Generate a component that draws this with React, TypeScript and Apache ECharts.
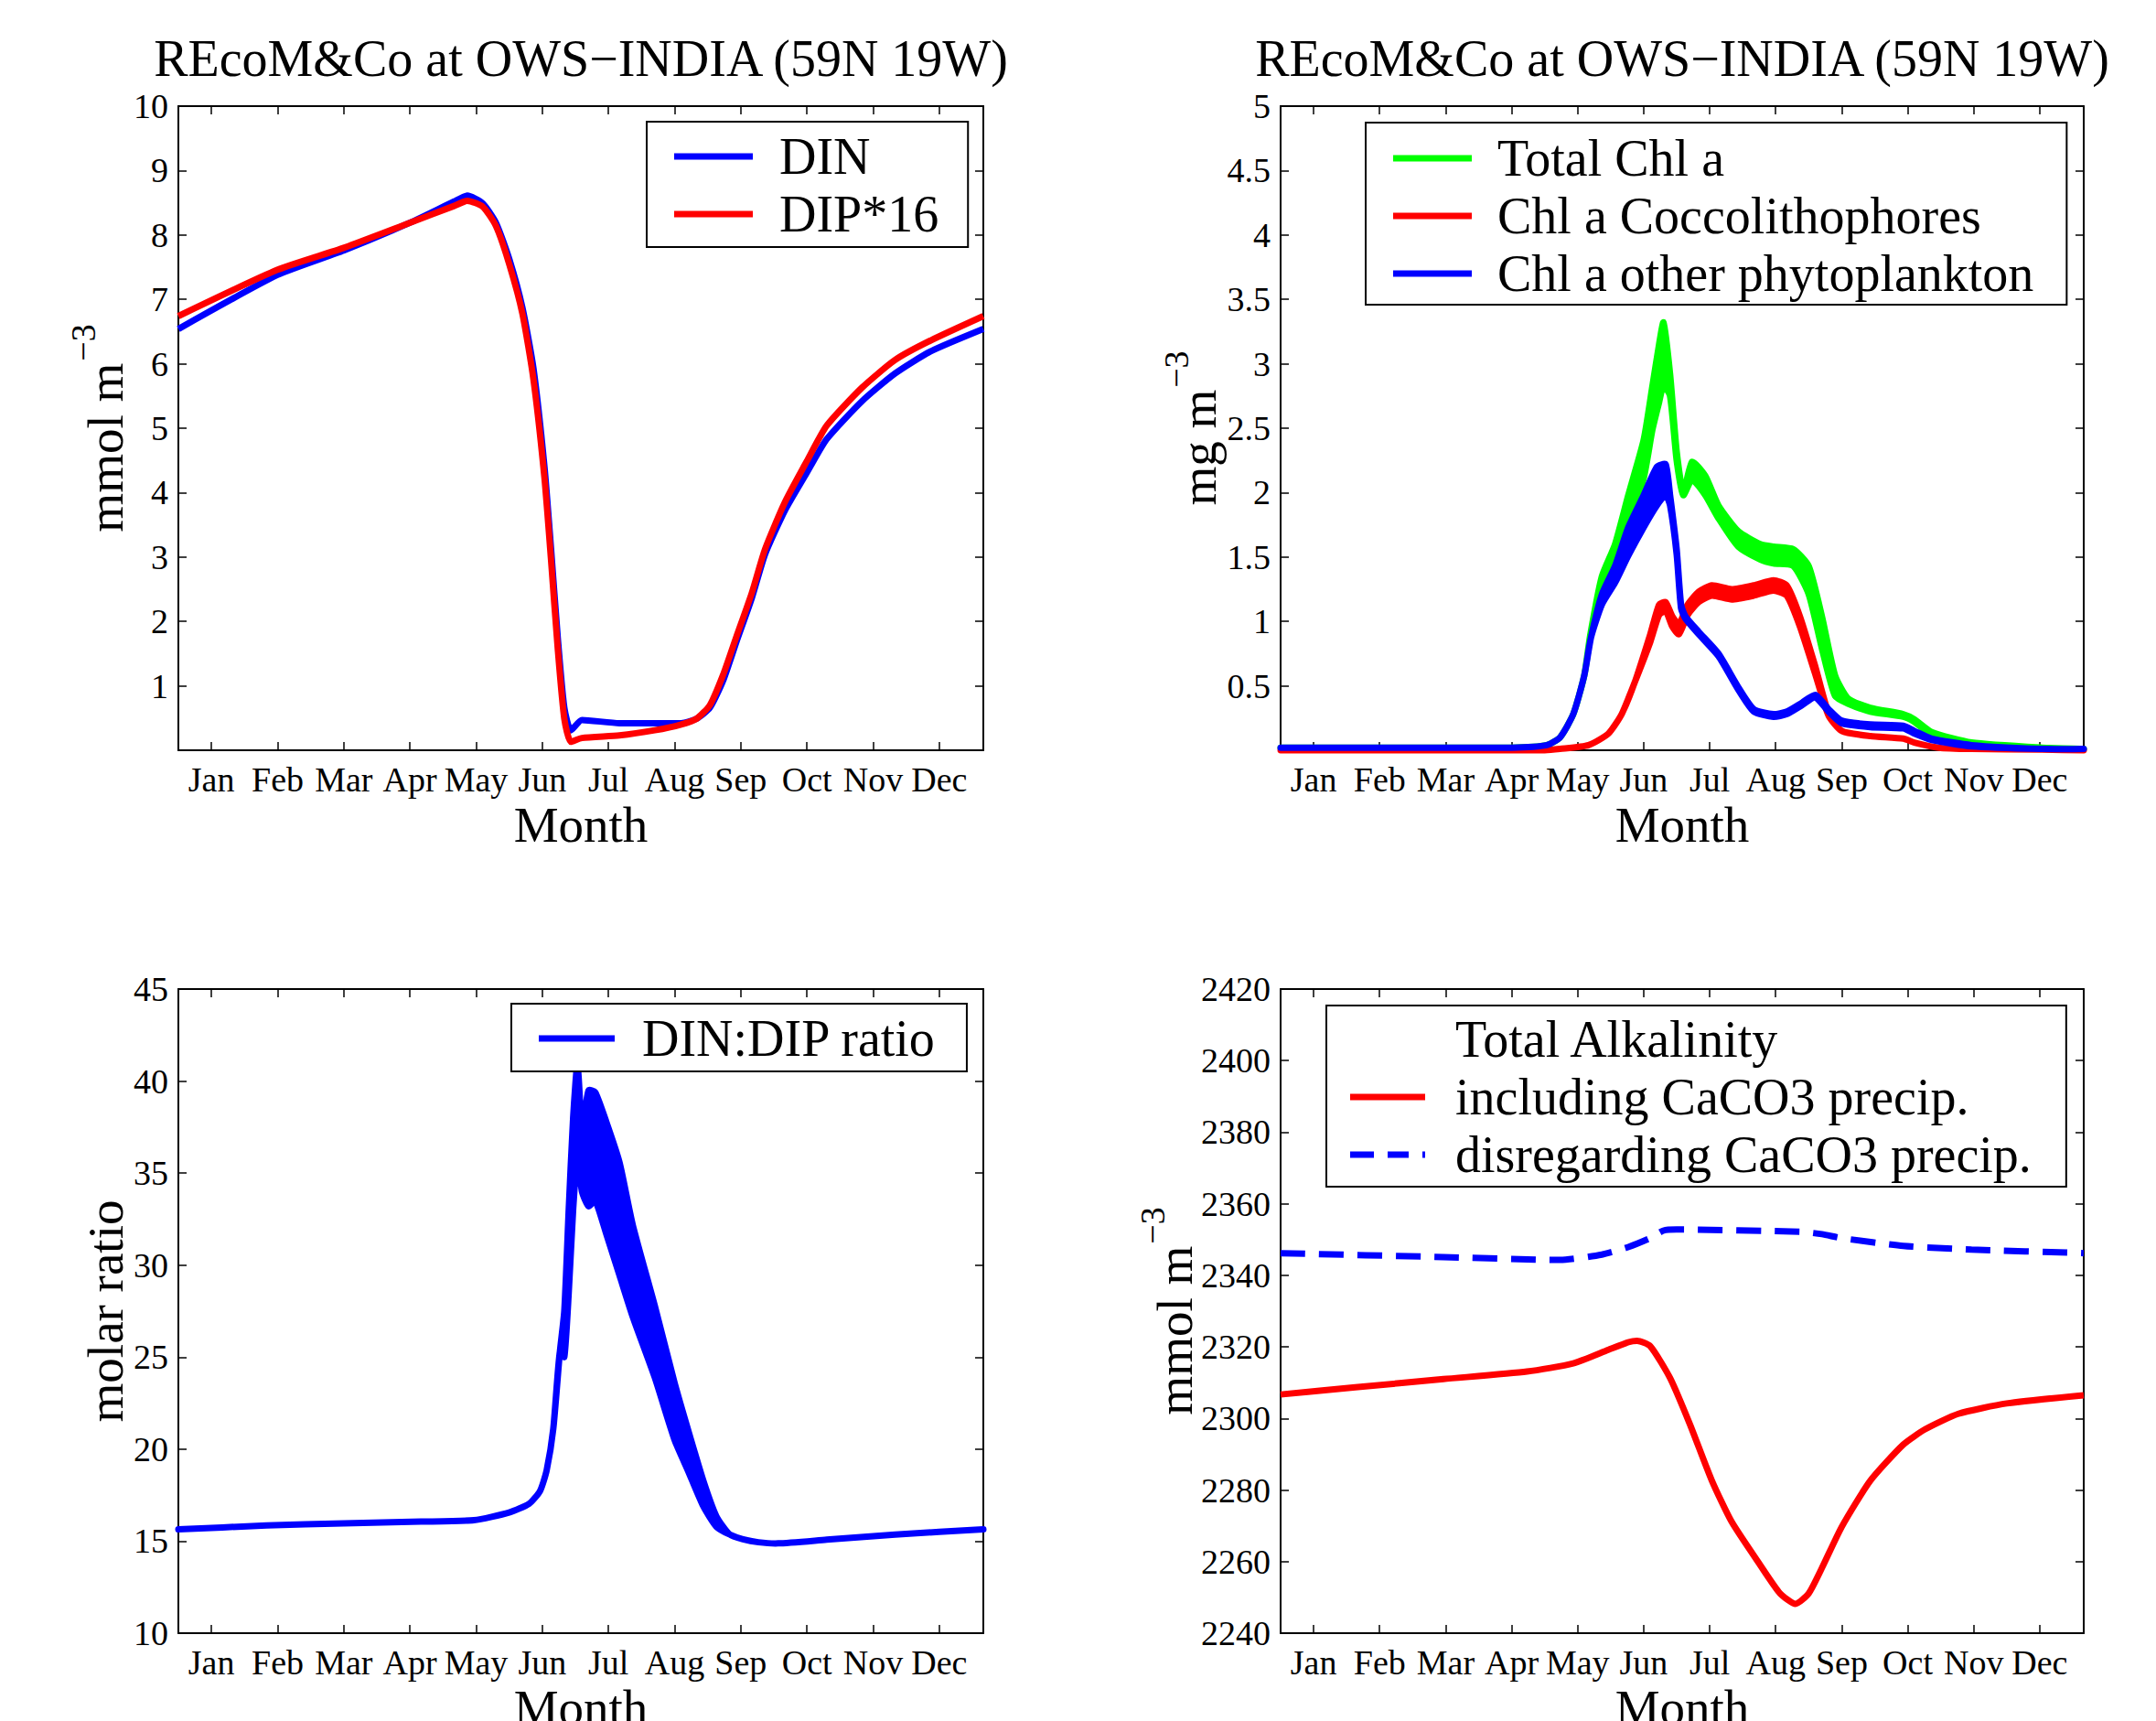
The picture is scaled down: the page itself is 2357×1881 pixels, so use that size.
import React, { useEffect, useRef } from 'react';
import * as echarts from 'echarts';

const FONT = 'Liberation Serif';
const TITLE = 'REcoM&Co at OWS\u2212INDIA (59N 19W)';

// x axis: day of year, month tick labels
const MONTHS = ['Jan', 'Feb', 'Mar', 'Apr', 'May', 'Jun', 'Jul', 'Aug', 'Sep', 'Oct', 'Nov', 'Dec'];
const MONTH_TICKS = [15, 45, 75, 105, 135, 165, 195, 225, 255, 285, 315, 345];

// y axis ranges [min, max, interval]
const Y_NUT = [0, 10, 1];
const Y_CHL = [0, 5, 0.5];
const Y_RATIO = [10, 45, 5];
const Y_TA = [2240, 2420, 20];

// Panel 1: nutrients (mmol m-3)
const NUT_DAYS = [0, 45, 75, 105, 125, 131, 138, 144, 150, 156, 161, 166, 169, 172, 175, 178, 183, 200, 216, 228, 235, 241, 247, 253, 260, 266, 275, 285, 294, 310, 325, 341, 365];
const DIN = [6.54, 7.38, 7.76, 8.19, 8.52, 8.61, 8.49, 8.19, 7.63, 6.87, 5.93, 4.40, 3.12, 1.76, 0.66, 0.31, 0.47, 0.42, 0.42, 0.42, 0.49, 0.66, 1.08, 1.68, 2.36, 3.04, 3.72, 4.31, 4.83, 5.42, 5.85, 6.19, 6.54];
const DIP16 = [6.74, 7.46, 7.80, 8.19, 8.45, 8.53, 8.44, 8.14, 7.55, 6.78, 5.76, 4.23, 2.95, 1.59, 0.49, 0.13, 0.19, 0.23, 0.31, 0.40, 0.49, 0.70, 1.17, 1.76, 2.44, 3.12, 3.85, 4.49, 5.04, 5.63, 6.06, 6.36, 6.74];

// Panel 2: chlorophyll (mg m-3), upper / lower envelope of daily oscillation
const CHL_TOT_DAYS = [0, 60, 105, 121, 127, 133, 138, 141, 146, 152, 158, 165, 169, 172, 174, 177, 180, 183, 187, 193, 199, 208, 218, 224, 233, 240, 246, 252, 258, 268, 283, 288, 296, 314, 346, 365];
const CHL_TOT_UP = [0.02, 0.02, 0.02, 0.04, 0.10, 0.28, 0.58, 0.92, 1.35, 1.60, 1.98, 2.41, 2.83, 3.15, 3.32, 2.92, 2.32, 2.00, 2.24, 2.13, 1.90, 1.70, 1.60, 1.58, 1.56, 1.43, 1.04, 0.58, 0.40, 0.33, 0.28, 0.24, 0.14, 0.06, 0.02, 0.01];
const CHL_TOT_LO = [0.02, 0.02, 0.02, 0.04, 0.10, 0.28, 0.58, 0.92, 1.22, 1.40, 1.73, 2.11, 2.49, 2.70, 2.83, 2.75, 2.25, 1.98, 2.10, 1.98, 1.80, 1.58, 1.48, 1.45, 1.43, 1.21, 0.79, 0.42, 0.36, 0.30, 0.26, 0.22, 0.12, 0.05, 0.02, 0.01];

const CHL_COC_DAYS = [0, 120, 127, 140, 149, 155, 161, 168, 172, 175, 178, 181, 185, 190, 196, 205, 215, 224, 230, 236, 243, 249, 255, 268, 283, 288, 299, 314, 346, 365];
const CHL_COC_UP = [0.0, 0.0, 0.01, 0.04, 0.13, 0.28, 0.53, 0.90, 1.13, 1.15, 1.04, 0.98, 1.13, 1.23, 1.28, 1.25, 1.28, 1.32, 1.28, 1.04, 0.65, 0.29, 0.15, 0.11, 0.09, 0.06, 0.02, 0.01, 0.005, 0.0];
const CHL_COC_LO = [0.0, 0.0, 0.01, 0.04, 0.13, 0.28, 0.53, 0.84, 1.05, 1.08, 0.96, 0.90, 1.05, 1.15, 1.20, 1.17, 1.20, 1.24, 1.20, 0.96, 0.59, 0.27, 0.15, 0.11, 0.09, 0.06, 0.02, 0.01, 0.005, 0.0];

const CHL_OTH_DAYS = [0, 60, 105, 121, 127, 133, 138, 141, 146, 152, 158, 165, 171, 175, 177, 180, 182, 184, 190, 199, 208, 215, 224, 230, 237, 243, 249, 255, 268, 283, 288, 296, 314, 346, 365];
const CHL_OTH_UP = [0.02, 0.02, 0.02, 0.04, 0.10, 0.28, 0.58, 0.87, 1.21, 1.43, 1.73, 1.98, 2.20, 2.22, 1.98, 1.56, 1.13, 1.04, 0.92, 0.75, 0.49, 0.32, 0.28, 0.30, 0.37, 0.43, 0.32, 0.23, 0.20, 0.19, 0.15, 0.09, 0.04, 0.01, 0.01];
const CHL_OTH_LO = [0.02, 0.02, 0.02, 0.04, 0.10, 0.28, 0.58, 0.87, 1.13, 1.30, 1.51, 1.73, 1.90, 1.98, 1.90, 1.52, 1.10, 1.02, 0.90, 0.73, 0.47, 0.30, 0.26, 0.28, 0.35, 0.41, 0.30, 0.21, 0.18, 0.17, 0.13, 0.08, 0.03, 0.01, 0.01];

// Panel 3: DIN:DIP molar ratio, upper / lower envelope
const RATIO_DAYS = [0, 40, 75, 110, 134, 150, 159, 164, 167, 170, 173, 175, 177, 179, 181, 183, 186, 189, 194, 200, 206, 216, 225, 231, 238, 244, 250, 256, 263, 272, 294, 325, 365];
const RATIO_UP = [15.64, 15.85, 15.97, 16.06, 16.14, 16.56, 17.03, 17.73, 18.85, 21.1, 25.3, 27.5, 33.0, 38.0, 41.0, 37.5, 39.5, 39.4, 37.8, 35.6, 32.2, 27.8, 23.6, 21.1, 18.3, 16.34, 15.36, 15.10, 14.94, 14.88, 15.08, 15.36, 15.64];
const RATIO_LO = [15.64, 15.85, 15.97, 16.06, 16.14, 16.56, 17.03, 17.73, 18.85, 21.1, 25.3, 25.0, 28.5, 33.0, 36.0, 34.0, 33.2, 33.5, 31.7, 29.45, 27.2, 23.9, 20.5, 18.85, 16.9, 15.78, 15.36, 15.10, 14.94, 14.88, 15.08, 15.36, 15.64];

// Panel 4: total alkalinity (mmol m-3)
const TA_INC_DAYS = [0, 34, 74, 112, 133, 149, 158, 162, 168, 177, 186, 196, 205, 218, 227, 234, 240, 246, 255, 268, 283, 293, 308, 330, 365];
const TA_INC = [2306.7, 2308.7, 2311.0, 2313.1, 2315.4, 2319.2, 2321.3, 2321.7, 2320.2, 2311.3, 2298.4, 2282.6, 2271.1, 2259.0, 2251.1, 2248.2, 2251.1, 2258.2, 2269.7, 2282.6, 2292.7, 2297.0, 2301.3, 2304.2, 2306.5];
const TA_DIS_DAYS = [0, 74, 127, 146, 158, 168, 174, 180, 236, 246, 255, 283, 314, 365];
const TA_DIS = [2346.2, 2345.1, 2344.3, 2345.8, 2347.9, 2350.4, 2352.5, 2352.8, 2352.2, 2351.5, 2350.4, 2348.2, 2347.2, 2346.2];

const GRIDS = [
  { left: 195, top: 116, width: 880, height: 704 },
  { left: 1400, top: 116, width: 878, height: 704 },
  { left: 195, top: 1081, width: 880, height: 704 },
  { left: 1400, top: 1081, width: 878, height: 704 },
];

const BLUE = '#0000ff';
const RED = '#ff0000';
const GREEN = '#00ff00';
const LW = 7;
const DASH_ICON = 'path://M0,0H26V7H0Z M41,0H64V7H41Z M79,0H82V7H79Z';

function measure(text: string, size: number) {
  const c = document.createElement('canvas').getContext('2d')!;
  c.font = `${size}px "${FONT}"`;
  return c.measureText(text).width;
}

function line(name: string, days: number[], vals: number[], color: string, gi: number, extra: any = {}) {
  return {
    type: 'line',
    name,
    xAxisIndex: 2 * gi,
    yAxisIndex: 2 * gi,
    data: days.map((d, i) => [d, vals[i]]),
    showSymbol: false,
    symbol: 'none',
    smooth: 0.2,
    lineStyle: { color, width: LW, join: 'round' },
    itemStyle: { color },
    emphasis: { disabled: true },
    ...extra,
  };
}

// band between an upper and a lower envelope, drawn through the axes' scales
function band(name: string, days: number[], up: number[], lo: number[], color: string, gi: number) {
  return {
    type: 'custom',
    name,
    xAxisIndex: 2 * gi,
    yAxisIndex: 2 * gi,
    data: days.map((d, i) => [d, up[i], lo[i]]),
    encode: { x: 0, y: [1, 2] },
    itemStyle: { color },
    emphasis: { disabled: true },
    renderItem: (params: any, api: any) => {
      if (params.dataIndex !== 0) return null;
      const top = days.map((d, i) => api.coord([d, up[i]]));
      const bot = days.map((d, i) => api.coord([d, lo[i]])).reverse();
      return {
        type: 'polygon',
        shape: { points: top.concat(bot), smooth: 0.2 },
        style: { fill: color, stroke: color, lineWidth: LW, lineJoin: 'round' },
      };
    },
  };
}

function buildOption() {
  const ranges = [Y_NUT, Y_CHL, Y_RATIO, Y_TA];
  const axisLine = { show: true, onZero: false, lineStyle: { color: '#000', width: 2 } };
  const tickStyle = { color: '#000', width: 1.5 };
  const xAxis: any[] = [];
  const yAxis: any[] = [];
  GRIDS.forEach((_, i) => {
    xAxis.push({
      type: 'value', gridIndex: i, position: 'bottom', min: 0, max: 365,
      axisLine,
      axisTick: { show: true, inside: true, length: 9, customValues: MONTH_TICKS, lineStyle: tickStyle },
      axisLabel: {
        show: true, customValues: MONTH_TICKS,
        formatter: (v: number) => MONTHS[Math.round((v - 15) / 30)],
        color: '#000', fontSize: 38, fontFamily: FONT, margin: 13,
      },
      splitLine: { show: false },
      name: 'Month', nameLocation: 'middle', nameGap: 54, nameMoveOverlap: false,
      nameTextStyle: { fontSize: 55, fontFamily: FONT, color: '#000' },
    });
    xAxis.push({
      type: 'value', gridIndex: i, position: 'top', min: 0, max: 365,
      axisLine,
      axisTick: { show: true, inside: true, length: 9, customValues: MONTH_TICKS, lineStyle: tickStyle },
      axisLabel: { show: false },
      splitLine: { show: false },
    });
    const [mn, mx, iv] = ranges[i];
    yAxis.push({
      type: 'value', gridIndex: i, position: 'left', min: mn, max: mx, interval: iv,
      axisLine,
      axisTick: { show: true, inside: true, length: 9, lineStyle: tickStyle },
      axisLabel: {
        show: true, color: '#000', fontSize: 38, fontFamily: FONT, margin: 11, showMinLabel: i >= 2,
        formatter: (v: number) => String(v),
      },
      splitLine: { show: false },
    });
    yAxis.push({
      type: 'value', gridIndex: i, position: 'right', min: mn, max: mx, interval: iv,
      axisLine,
      axisTick: { show: true, inside: true, length: 9, lineStyle: tickStyle },
      axisLabel: { show: false },
      splitLine: { show: false },
    });
  });

  const series: any[] = [
    line('DIN', NUT_DAYS, DIN, BLUE, 0),
    line('DIP*16', NUT_DAYS, DIP16, RED, 0),
    band('Total Chl a', CHL_TOT_DAYS, CHL_TOT_UP, CHL_TOT_LO, GREEN, 1),
    band('Chl a Coccolithophores', CHL_COC_DAYS, CHL_COC_UP, CHL_COC_LO, RED, 1),
    band('Chl a other phytoplankton', CHL_OTH_DAYS, CHL_OTH_UP, CHL_OTH_LO, BLUE, 1),
    band('DIN:DIP ratio', RATIO_DAYS, RATIO_UP, RATIO_LO, BLUE, 2),
    { type: 'line', name: 'Total Alkalinity', xAxisIndex: 6, yAxisIndex: 6, data: [], symbol: 'none', lineStyle: { color: '#fff', width: 0 }, itemStyle: { color: '#fff' } },
    line('including CaCO3 precip.', TA_INC_DAYS, TA_INC, RED, 3),
    line('disregarding CaCO3 precip.', TA_DIS_DAYS, TA_DIS, BLUE, 3, { lineStyle: { color: BLUE, width: LW, type: [27, 15] } }),
  ];

  const legendBase = {
    orient: 'vertical',
    itemWidth: 86,
    itemHeight: 7,
    icon: 'rect',
    borderColor: '#000',
    borderWidth: 2,
    borderRadius: 0,
    backgroundColor: '#fff',
    selectedMode: false,
    itemStyle: { borderWidth: 0 },
    z: 10,
  };
  const lt = (pad: number) => ({ fontSize: 56, fontFamily: FONT, color: '#000', padding: [0, 0, 0, pad] });
  const legend = [
    { ...legendBase, data: ['DIN', 'DIP*16'], left: 707, top: 133, padding: [10, 32, 8, 30], itemGap: 7, textStyle: lt(24) },
    { ...legendBase, data: ['Total Chl a', 'Chl a Coccolithophores', 'Chl a other phytoplankton'], left: 1493, top: 134, padding: [11, 36, 6, 30], itemGap: 7, textStyle: lt(23) },
    { ...legendBase, data: ['DIN:DIP ratio'], left: 559, top: 1097, padding: [10, 33, 8, 30], itemGap: 7, itemWidth: 83, textStyle: lt(25) },
    {
      ...legendBase,
      data: [
        { name: 'Total Alkalinity', icon: 'none' },
        { name: 'including CaCO3 precip.', icon: 'rect' },
        { name: 'disregarding CaCO3 precip.', icon: DASH_ICON },
      ],
      left: 1450, top: 1099, padding: [9, 38, 7, 26], itemGap: 7, itemWidth: 82, textStyle: lt(28),
    },
  ];

  const graphic: any[] = [];
  const txt = (text: string, size: number, align: string) => ({
    text, fontSize: size, fontFamily: FONT, fill: '#000',
    align, verticalAlign: 'middle', textAlign: align, textVerticalAlign: 'middle',
  });
  [635, 1839].forEach((cx) => {
    graphic.push({ type: 'text', x: cx, y: 64, style: txt(TITLE, 56, 'center') });
  });
  const yLabel = (main: string, sup: string, baseX: number, cy: number) => {
    const mf = 55, sf = 38, gap = 2;
    const wm = measure(main, mf);
    const ws = sup ? measure(sup, sf) : 0;
    const total = wm + (sup ? gap + ws : 0);
    const start = cy + total / 2;
    graphic.push({ type: 'text', x: baseX - 0.3375 * mf, y: start, rotation: Math.PI / 2, style: txt(main, mf, 'left') });
    if (sup) {
      graphic.push({ type: 'text', x: baseX - 30 - 0.3375 * sf, y: start - wm - gap, rotation: Math.PI / 2, style: txt(sup, sf, 'left') });
    }
  };
  yLabel('mmol m', '\u22123', 134, 468);
  yLabel('mg m', '\u22123', 1329, 468);
  yLabel('molar ratio', '', 134, 1433);
  yLabel('mmol m', '\u22123', 1303, 1433);

  return {
    animation: false,
    backgroundColor: '#fff',
    textStyle: { fontFamily: FONT },
    grid: GRIDS.map((g) => ({ ...g, containLabel: false, outerBoundsMode: 'none', show: false })),
    xAxis,
    yAxis,
    legend,
    series,
    graphic,
  };
}

export default function App() {
  const ref = useRef<HTMLDivElement>(null);
  useEffect(() => {
    document.body.style.margin = '0';
    document.body.style.overflow = 'hidden';
    const chart = echarts.init(ref.current!, null, { renderer: 'svg' });
    chart.setOption(buildOption() as any);
    return () => chart.dispose();
  }, []);
  return <div ref={ref} style={{ position: 'absolute', left: 0, top: 0, width: 2357, height: 1881, background: '#fff' }} />;
}
